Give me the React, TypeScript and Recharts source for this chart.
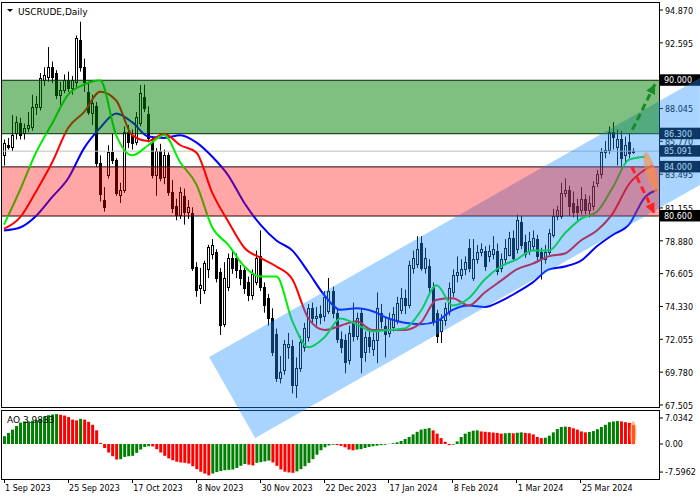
import React from "react"
import {
  ComposedChart,
  Bar,
  Line,
  Area,
  XAxis,
  YAxis,
  Cell,
  ReferenceLine,
  ReferenceArea,
  ReferenceDot,
} from "recharts"

const W = 700
const H = 500
const FONT = "DejaVu Sans"

// USCRUDE daily bars, 1 Sep 2023 .. mid Apr 2024
const opens = [
  84.83, 85.5, 85.38, 86.35, 87.04, 86.35, 86.69, 86.76, 88.15, 88.15,
  90.0, 90.2, 90.92, 90.5, 88.98, 89.33, 90.0, 89.5, 89.9, 92.79,
  90.92, 89.19, 87.73, 88.2, 84.3, 81.7, 83.43, 85.03, 84.48, 82.05,
  82.4, 86.42, 86.2, 85.72, 87.05, 88.84, 87.67, 85.72, 83.43, 85.1,
  83.3, 84.82, 82.26, 81.3, 80.67, 82.0, 80.9, 80.8, 77.07, 75.6,
  75.47, 76.9, 78.0, 78.1, 76.7, 73.1, 75.7, 77.7, 77.7, 76.86,
  76.86, 76.0, 75.1, 76.0, 77.8, 75.7, 74.9, 73.5, 72.4, 69.4,
  69.9, 71.5, 71.6, 68.9, 70.1, 71.52, 72.2, 74.2, 73.5, 73.8,
  73.7, 74.0, 75.4, 73.9, 72.1, 72.0, 70.6, 73.2, 72.3, 73.9,
  71.2, 72.2, 71.4, 72.0, 73.9, 73.0, 72.5, 72.9, 73.4, 74.1,
  74.9, 74.4, 77.0, 77.3, 78.7, 77.0, 77.1, 75.7, 73.9, 72.6,
  73.4, 74.0, 75.3, 76.5, 76.5, 76.9, 78.4, 76.3, 77.6, 78.1,
  78.2, 77.8, 78.0, 78.2, 77.0, 77.6, 77.9, 79.1, 78.3, 80.2,
  78.8, 78.2, 78.5, 79.0, 78.1, 77.6, 78.1, 79.3, 80.6, 80.6,
  82.2, 82.4, 81.5, 81.3, 81.0, 81.8, 81.0, 81.3, 82.9, 83.5,
  85.0, 85.2, 86.4, 85.4, 85.9, 84.8, 85.7, 85.0,
]
const highs = [
  85.9, 86.0, 87.6, 87.5, 87.4, 87.0, 87.8, 89.0, 88.9, 90.5,
  90.9, 92.3, 91.3, 90.7, 89.9, 90.4, 90.6, 90.3, 93.1, 94.06,
  91.5, 89.9, 89.0, 88.5, 84.8, 82.6, 85.5, 86.3, 84.6, 82.9,
  86.8, 86.9, 86.6, 87.8, 89.67, 89.7, 88.2, 86.0, 85.3, 85.6,
  85.2, 85.0, 83.1, 81.8, 82.6, 82.5, 81.7, 81.2, 77.4, 77.0,
  77.5, 78.6, 79.0, 78.3, 77.0, 77.4, 78.0, 78.2, 78.0, 77.2,
  77.1, 76.4, 76.9, 78.2, 79.6, 76.0, 75.2, 74.2, 72.8, 70.9,
  72.0, 72.5, 72.0, 70.8, 72.3, 73.2, 74.5, 74.6, 74.3, 74.4,
  75.4, 76.3, 75.7, 74.2, 72.6, 72.4, 73.0, 74.6, 73.9, 74.2,
  72.6, 72.8, 72.5, 75.3, 74.5, 73.6, 73.9, 74.3, 75.0, 75.6,
  75.5, 77.5, 78.2, 79.2, 79.2, 78.4, 77.6, 76.0, 74.1, 73.8,
  74.6, 76.0, 76.9, 77.8, 77.6, 77.8, 79.0, 79.0, 78.6, 78.7,
  78.5, 78.6, 79.2, 78.7, 78.0, 79.0, 79.5, 79.6, 80.7, 80.6,
  79.3, 79.5, 79.6, 79.3, 78.4, 78.6, 79.7, 81.1, 81.3, 82.9,
  83.2, 82.7, 82.3, 81.8, 82.6, 82.1, 82.0, 83.0, 83.8, 85.3,
  85.8, 86.8, 87.1, 86.6, 86.5, 86.1, 86.3, 85.3,
]
const lows = [
  84.1, 85.2, 85.1, 85.9, 85.9, 85.9, 86.4, 86.5, 87.6, 87.9,
  89.6, 89.9, 89.8, 88.7, 88.3, 89.1, 89.2, 89.0, 89.5, 90.6,
  89.2, 87.6, 86.9, 84.0, 81.6, 80.9, 83.2, 84.2, 82.0, 81.5,
  82.2, 85.3, 85.2, 85.5, 86.8, 87.8, 85.7, 83.2, 82.0, 83.0,
  82.8, 82.0, 80.8, 80.3, 80.4, 80.0, 80.4, 76.8, 75.0, 74.5,
  75.2, 76.3, 77.6, 76.0, 72.35, 72.9, 75.4, 76.6, 76.3, 75.8,
  75.2, 74.7, 74.8, 75.8, 75.4, 73.9, 73.0, 70.9, 69.1, 69.0,
  69.6, 70.7, 68.3, 68.0, 69.8, 71.2, 71.9, 73.2, 73.0, 73.1,
  73.3, 73.8, 73.5, 71.8, 71.1, 69.7, 70.3, 71.9, 72.0, 69.7,
  70.5, 71.1, 70.9, 70.4, 72.8, 70.8, 72.2, 72.6, 73.1, 73.8,
  73.8, 74.2, 76.6, 77.0, 76.8, 76.6, 75.3, 73.0, 71.8, 71.8,
  73.0, 73.7, 75.0, 76.0, 76.2, 76.5, 76.7, 76.1, 77.3, 77.8,
  76.8, 77.4, 77.6, 76.5, 76.7, 77.3, 77.8, 77.5, 78.0, 78.3,
  77.7, 77.9, 78.2, 77.5, 76.2, 77.3, 77.9, 79.1, 80.3, 80.4,
  81.9, 80.6, 80.5, 80.3, 80.7, 80.7, 80.5, 81.0, 82.6, 83.2,
  84.6, 84.9, 85.2, 84.1, 84.0, 84.2, 84.6, 84.9,
]
const closes = [
  85.66, 85.38, 86.21, 87.11, 86.21, 86.69, 86.9, 88.15, 88.36, 90.16,
  90.37, 90.92, 90.2, 88.98, 89.33, 90.0, 89.47, 90.0, 92.93, 90.92,
  89.88, 87.8, 88.43, 84.3, 82.1, 81.2, 85.03, 84.48, 82.19, 82.4,
  86.42, 85.72, 85.65, 87.46, 89.12, 88.08, 86.0, 83.43, 85.1, 83.23,
  84.82, 82.26, 81.15, 80.67, 82.26, 80.88, 81.2, 77.0, 75.47, 75.8,
  77.34, 78.45, 78.6, 76.3, 73.05, 76.3, 77.7, 77.0, 76.86, 76.3,
  75.6, 75.1, 76.6, 77.7, 75.7, 74.43, 73.5, 71.2, 69.4, 69.8,
  71.7, 71.7, 68.9, 70.1, 71.9, 72.84, 74.2, 73.5, 73.7, 73.6,
  74.98, 75.4, 73.9, 72.1, 71.5, 70.5, 72.5, 72.3, 73.5, 70.8,
  72.2, 71.6, 72.0, 74.2, 73.3, 72.4, 73.5, 73.8, 74.6, 74.9,
  74.4, 77.2, 77.7, 78.3, 77.0, 77.7, 75.7, 73.25, 72.3, 73.4,
  74.2, 75.6, 76.5, 76.7, 76.9, 77.4, 77.0, 77.6, 78.1, 78.3,
  77.1, 78.2, 78.3, 76.8, 77.6, 78.4, 79.1, 77.7, 80.3, 78.6,
  78.0, 78.9, 79.1, 77.8, 77.6, 78.1, 79.4, 80.6, 81.0, 82.2,
  82.4, 81.3, 80.9, 80.9, 81.8, 81.0, 81.5, 82.7, 83.5, 85.0,
  85.2, 86.4, 86.1, 85.9, 84.6, 85.5, 84.95, 85.09,
]

// Awesome Oscillator, one value per bar
const aoValues = [
  2.1, 3.0, 3.9, 4.9, 5.8, 6.1, 6.1, 6.3, 6.4, 6.8, 7.4, 7.8, 8.0, 8.1,
  7.9, 7.7, 7.3, 6.6, 6.4, 6.8, 6.6, 6.0, 5.2, 3.7,
  0.3, -1.1, -2.3, -3.3, -4.2, -4.1, -3.5, -3.3, -3.2, -2.4, -1.5, -0.8, -0.6,
  -0.65, -1.4, -2.3, -3.2, -3.9, -4.4, -4.8, -5.0, -5.1, -5.3, -6.0, -6.8, -7.5, -8.0, -8.5,
  -8.0, -7.6, -7.3, -7.1, -7.0, -6.9, -6.5, -5.9, -5.4,
  -5.6, -5.8,
  -5.1, -4.9, -4.7, -4.5,
  -5.0, -5.9, -6.9, -7.5, -7.7, -7.8,
  -7.4, -6.8, -6.0, -5.1, -4.1, -2.9, -1.7, -0.9, -0.4, -0.2,
  -0.3, -0.5, -0.9, -1.5, -1.7,
  -1.5, -1.4, -1.1, -0.8, -0.6, -0.45, -0.3, -0.2, 0.05, 0.2, 0.45, 0.8, 1.35, 1.9, 2.6, 3.3, 3.9, 4.1, 4.3,
  3.7, 2.8, 1.6, 0.6, -0.3,
  -0.2, 0.7, 1.9, 2.8, 3.3, 3.6, 3.7,
  3.4, 3.3, 3.2, 3.1, 3.0, 2.8,
  2.9, 3.0,
  2.9,
  3.05, 3.15,
  3.0, 2.9, 2.6, 1.9, 1.6,
  1.7, 2.25, 3.15, 4.05, 4.6, 4.7,
  4.6, 4.25, 3.9, 3.4, 3.15,
  3.25, 3.5, 4.0, 4.6, 5.2, 5.9, 6.1, 6.2,
  6.1, 5.9, 5.7, 5.1,
]

// alligator lines read every 4th bar (shifted forward, so they run past the last bar)
const lineIdx = [
  0, 4, 8, 12, 16, 20, 24, 28, 32, 36, 40, 44, 48, 52, 56, 60, 64, 68, 72, 76,
  80, 84, 88, 92, 96, 100, 104, 108, 112, 116, 120, 124, 128, 132, 136, 140, 144, 148, 152, 156, 160,
]
const lips = [
  80.0, 82.4, 85.0, 87.0, 89.0, 89.7, 90.0, 86.2, 84.8, 85.5, 86.2, 84.3, 82.8, 79.8, 78.6, 77.1, 76.4, 76.4, 73.3, 71.5,
  72.2, 73.5, 73.1, 72.6, 72.7, 72.8, 74.0, 75.8, 74.4, 74.9, 76.2, 77.1, 77.6, 78.2, 78.2, 79.4, 80.4, 80.9, 82.6, 84.5, 84.7,
]
const teethIdx = [...lineIdx, 162]
const teeth = [
  79.7, 80.5, 82.3, 84.3, 86.7, 87.8, 89.2, 88.6, 86.2, 85.8, 86.3, 85.5, 85.0, 82.2, 80.2, 78.4, 77.7, 77.1, 76.2, 73.5,
  72.7, 73.0, 73.3, 72.7, 72.7, 72.7, 73.2, 74.8, 74.9, 74.4, 75.3, 76.1, 76.9, 77.3, 77.8, 78.0, 78.9, 79.6, 80.8, 82.8, 83.8,
  84.1,
]
const jawIdx = [...lineIdx, 163]
const jaw = [
  79.6, 79.8, 80.6, 81.9, 83.2, 85.3, 86.7, 87.7, 87.1, 86.1, 86.0, 86.2, 85.7, 84.7, 83.4, 81.5, 80.0, 78.9, 78.2, 76.7,
  75.1, 74.1, 74.2, 74.0, 73.5, 73.2, 73.1, 73.3, 74.1, 74.4, 74.3, 74.7, 75.3, 76.0, 76.9, 77.1, 77.5, 78.5, 79.3, 80.0, 81.9,
  82.4,
]

const dateTicks = [0, 16, 32, 48, 64, 80, 96, 112, 128, 144]
const dateLabels = [
  "1 Sep 2023", "25 Sep 2023", "17 Oct 2023", "8 Nov 2023", "30 Nov 2023",
  "22 Dec 2023", "17 Jan 2024", "8 Feb 2024", "1 Mar 2024", "25 Mar 2024",
]
const priceTicks = [94.87, 92.595, 88.045, 85.77, 83.495, 81.155, 78.88, 76.605, 74.33, 72.055, 69.78, 67.505]
const aoTicks = [7.0342, 0, -7.5962]

const buyZone = [86.3, 90.0]
const sellZone = [80.6, 84.0]
const lastPrice = 85.091

// ascending channel: bar position, lower edge, upper edge
const channelX = [51.2, 62.7, 173.7]
const channelLow = [70.83, 65.22, 82.75]
const channelHigh = [70.83, 72.64, 90.16]

const upArrowX = [156.84, 162.5]
const upArrowY = [86.56, 89.74]
const downArrowX = [156.7, 162.33]
const downArrowY = [84.01, 80.79]
const markX = 161.5
const markY = 83.61
const aoMarkX = 157
const aoMarkY = 3.0

const SLOTS = 164

function pick(idx: number[], vals: number[], i: number) {
  const k = idx.indexOf(i)
  return k >= 0 ? vals[k] : null
}

const rows = Array.from({ length: SLOTS }, (_, i) => ({
  i,
  o: opens[i],
  h: highs[i],
  l: lows[i],
  c: closes[i],
  range: i < closes.length ? [lows[i], highs[i]] : null,
  ao: i < aoValues.length ? aoValues[i] : null,
  lips: pick(lineIdx, lips, i),
  teeth: pick(teethIdx, teeth, i),
  jaw: pick(jawIdx, jaw, i),
}))

const channelData = channelX.map((x, k) => ({ x, band: [channelLow[k], channelHigh[k]] }))
const upArrowData = upArrowX.map((x, k) => ({ x, y: upArrowY[k] }))
const downArrowData = downArrowX.map((x, k) => ({ x, y: downArrowY[k] }))

function Candle(props: any) {
  const { x, y, width, height, payload } = props
  if (!payload || payload.range == null) return null
  const { o, c, h, l } = payload
  const top = Math.min(y, y + height)
  const span = Math.abs(height)
  const py = (v: number) => top + ((h - v) / (h - l || 1)) * span
  const cx = Math.floor(x + width / 2) + 0.5
  const b1 = Math.round(py(Math.max(o, c))) + 0.5
  const b2 = Math.max(Math.round(py(Math.min(o, c))) + 0.5, b1 + 1)
  const up = c >= o
  return (
    <g>
      <line x1={cx} x2={cx} y1={top} y2={top + span} stroke="#000" strokeWidth={1} />
      <rect x={cx - 1} y={b1} width={2} height={b2 - b1} fill={up ? "#fff" : "#000"} stroke="#000" strokeWidth={1} />
    </g>
  )
}

const priceTag = (text: string) => (p: any) => {
  const vb = p.viewBox
  if (!vb) return null
  const x0 = vb.x + vb.width + 1
  return (
    <g>
      <rect x={x0} y={vb.y - 6} width={40} height={11.5} fill="#000" />
      <text x={x0 + 4} y={vb.y + 3} fill="#fff" fontSize={8} fontFamily={FONT}>
        {text}
      </text>
    </g>
  )
}

function DateTick(props: any) {
  const { x, y, payload } = props
  const k = dateTicks.indexOf(payload.value)
  if (k < 0) return null
  return (
    <g>
      <line x1={Math.floor(x) + 0.5} x2={Math.floor(x) + 0.5} y1={y} y2={y + 4} stroke="#000" />
      <text x={x + 1} y={y + 11.5} fontSize={8} fontFamily={FONT} fill="#000">
        {dateLabels[k]}
      </text>
    </g>
  )
}

const ellipse = (rx: number, ry: number, angle: number) => (p: any) => (
  <ellipse
    cx={p.cx}
    cy={p.cy}
    rx={rx}
    ry={ry}
    transform={`rotate(${angle} ${p.cx} ${p.cy})`}
    fill="#ff8c3c"
    fillOpacity={0.6}
  />
)

const layer: React.CSSProperties = { position: "absolute", left: 0, top: 0 }

function PriceChart() {
  return (
    <ComposedChart width={W} height={H} data={rows} margin={{ top: 3, right: 0, bottom: 93, left: 2 }}>
      <XAxis dataKey="i" hide />
      <YAxis
        orientation="right"
        type="number"
        domain={[67.366, 95.355]}
        allowDataOverflow
        ticks={priceTicks}
        interval={0}
        width={41}
        tickSize={4}
        tickMargin={2}
        axisLine={false}
        stroke="#000"
        tickFormatter={(v: number) => v.toFixed(3)}
        tick={{ fontSize: 8, fill: "#000", fontFamily: FONT, dy: 1 }}
      />
      <ReferenceLine y={lastPrice} stroke="#c0c0c0" label={priceTag(lastPrice.toFixed(3))} />
      <ReferenceLine y={buyZone[1]} stroke="#000" label={priceTag(buyZone[1].toFixed(3))} />
      <ReferenceLine y={buyZone[0]} stroke="#000" label={priceTag(buyZone[0].toFixed(3))} />
      <ReferenceLine y={sellZone[1]} stroke="#000" label={priceTag(sellZone[1].toFixed(3))} />
      <ReferenceLine y={sellZone[0]} stroke="#000" label={priceTag(sellZone[0].toFixed(3))} />
      <Bar dataKey="range" barSize={3} isAnimationActive={false} shape={(p: any) => <Candle {...p} />} />
      <Line dataKey="jaw" type="monotone" stroke="#0000ff" strokeWidth={2} dot={false} connectNulls isAnimationActive={false} />
      <Line dataKey="teeth" type="monotone" stroke="#ff0000" strokeWidth={2} dot={false} connectNulls isAnimationActive={false} />
      <Line dataKey="lips" type="monotone" stroke="#00ee00" strokeWidth={2} dot={false} connectNulls isAnimationActive={false} />
    </ComposedChart>
  )
}

function AoChart() {
  return (
    <ComposedChart width={W} height={H} data={rows} margin={{ top: 411, right: 0, bottom: 0, left: 2 }}>
      <XAxis
        dataKey="i"
        ticks={dateTicks}
        interval={0}
        height={21}
        tickLine={false}
        axisLine={false}
        tickSize={0}
        tickMargin={0}
        tick={(p: any) => <DateTick {...p} />}
      />
      <YAxis
        orientation="right"
        type="number"
        domain={[-9.47, 8.93]}
        allowDataOverflow
        ticks={aoTicks}
        interval={0}
        width={41}
        tickSize={4}
        tickMargin={2}
        axisLine={false}
        stroke="#000"
        tickFormatter={(v: number) => (v === 0 ? "0.00" : String(v))}
        tick={{ fontSize: 8, fill: "#000", fontFamily: FONT }}
      />
      <Bar dataKey="ao" barSize={3} isAnimationActive={false}>
        {rows.map((r, k) => (
          <Cell key={k} fill={k > 0 && (r.ao ?? 0) < (rows[k - 1].ao ?? 0) ? "#ff0000" : "#008000"} />
        ))}
      </Bar>
      <ReferenceDot x={aoMarkX} y={aoMarkY} r={1} shape={ellipse(3.5, 12, 0)} />
    </ComposedChart>
  )
}

function Drawings() {
  return (
    <ComposedChart width={W} height={H} margin={{ top: 3, right: 0, bottom: 3, left: 2 }}>
      <XAxis type="number" dataKey="x" domain={[-0.5, 173.73]} allowDataOverflow hide />
      <YAxis type="number" domain={[61.131, 95.355]} allowDataOverflow hide />
      <Area
        data={channelData}
        dataKey="band"
        type="linear"
        stroke="none"
        fill="#1e90ff"
        fillOpacity={0.39}
        isAnimationActive={false}
      />
      <ReferenceArea x1={-0.5} x2={163.5} y1={buyZone[0]} y2={buyZone[1]} fill="#008000" fillOpacity={0.5} stroke="none" />
      <ReferenceArea x1={-0.5} x2={163.5} y1={sellZone[0]} y2={sellZone[1]} fill="#ff0000" fillOpacity={0.35} stroke="none" />
      <ReferenceDot x={markX} y={markY} r={1} shape={ellipse(5, 21, -16)} />
      <Line
        data={upArrowData}
        dataKey="y"
        type="linear"
        stroke="#1a8a2a"
        strokeWidth={3}
        strokeDasharray="7 4"
        dot={false}
        markerEnd="url(#headUp)"
        isAnimationActive={false}
      />
      <Line
        data={downArrowData}
        dataKey="y"
        type="linear"
        stroke="#ff2020"
        strokeWidth={3}
        strokeDasharray="7 4"
        dot={false}
        markerEnd="url(#headDown)"
        isAnimationActive={false}
      />
    </ComposedChart>
  )
}

export default function App() {
  return (
    <div style={{ position: "absolute", left: 0, top: 0, width: W, height: H, background: "#fff", overflow: "hidden" }}>
      <svg width={0} height={0} style={{ position: "absolute" }}>
        <defs>
          <marker id="headUp" markerUnits="userSpaceOnUse" markerWidth={12} markerHeight={12} refX={10} refY={5} orient="auto">
            <path d="M0,0 L10,5 L0,10 Z" fill="#1a8a2a" />
          </marker>
          <marker id="headDown" markerUnits="userSpaceOnUse" markerWidth={12} markerHeight={12} refX={10} refY={5} orient="auto">
            <path d="M0,0 L10,5 L0,10 Z" fill="#ff2020" />
          </marker>
        </defs>
      </svg>
      <div style={layer}>
        <PriceChart />
      </div>
      <div style={layer}>
        <AoChart />
      </div>
      <svg width={W} height={H} style={layer}>
        <rect x={1.5} y={2.5} width={658} height={405} fill="none" stroke="#000" />
        <rect x={1.5} y={410.5} width={658} height={69} fill="none" stroke="#000" />
        <polygon points="7,9 13,9 10,12" fill="#000" />
        <text x={18} y={14.5} fontSize={9} fontFamily={FONT} fill="#000">
          USCRUDE,Daily
        </text>
        <text x={7} y={423} fontSize={9} fontFamily={FONT} fill="#000">
          AO 3.9833
        </text>
      </svg>
      <div style={layer}>
        <Drawings />
      </div>
    </div>
  )
}
